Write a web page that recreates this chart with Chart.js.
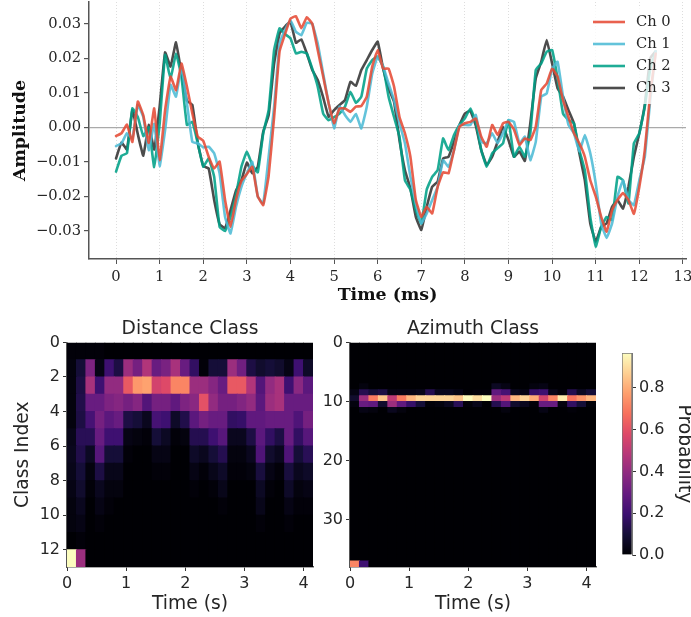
<!DOCTYPE html>
<html>
<head>
<meta charset="utf-8">
<script src="https://cdn.jsdelivr.net/npm/chart.js@4"></script>
<style>
  html, body { margin: 0; padding: 0; background: #fff; width: 691px; height: 617px; overflow: hidden; }
  canvas { position: absolute; }
</style>
</head>
<body>
<canvas id="waveChart" width="691" height="312" style="left:0;top:0"></canvas>
<canvas id="distChart" width="330" height="302" style="left:0;top:315px"></canvas>
<canvas id="aziChart" width="290" height="302" style="left:310px;top:315px"></canvas>
<canvas id="barChart" width="95" height="240" style="left:600px;top:335px"></canvas>
<script>
// time axis of the waveform, ms
const times = [
  0,0.125,0.25,0.375,0.5,0.625,0.75,0.875,
  1,1.125,1.25,1.375,1.5,1.625,1.75,1.875,
  2,2.125,2.25,2.375,2.5,2.625,2.75,2.875,
  3,3.125,3.25,3.375,3.5,3.625,3.75,3.875,
  4,4.125,4.25,4.375,4.5,4.625,4.75,4.875,
  5,5.125,5.25,5.375,5.5,5.625,5.75,5.875,
  6,6.125,6.25,6.375,6.5,6.625,6.75,6.875,
  7,7.125,7.25,7.375,7.5,7.625,7.75,7.875,
  8,8.125,8.25,8.375,8.5,8.625,8.75,8.875,
  9,9.125,9.25,9.375,9.5,9.625,9.75,9.875,
  10,10.125,10.25,10.375,10.5,10.625,10.75,10.875,
  11,11.125,11.25,11.375,11.5,11.625,11.75,11.875,
  12,12.125,12.25,12.375
]

// amplitudes in thousandths
const ch0 = [
  -2.5,-1.7,0.8,-4.2,7.5,3.5,-4.5,5.5,
  -9.5,5,14.7,10.8,18.5,11.8,4,-2.7,
  -3.9,-8.5,-11.9,-9.9,-21,-28.8,-21,-15.5,
  -13.5,-11.4,-20,-22.5,-14,3,22,27,
  31.5,32.2,28.7,31.9,30,22.4,14.7,7,
  1.2,5.5,5.5,4.5,6,6.2,8.9,17.6,
  22.4,17,17,11.8,3,-1.7,-8.5,-21,
  -25.9,-23,-24.9,-17.2,-13,-13.3,-6.6,0.2,
  1.2,1.6,2.6,-2.7,-5.6,0.7,-2.2,1.2,
  1.6,-0.6,-5.1,-3.2,-3.7,0.2,10.8,12.7,
  17,14.7,7.9,3,-1.7,-4.6,-8.5,-15.3,
  -20,-25.9,-30.2,-24,-21,-19,-21,-25,
  -17.2,-6.6,9.8,21.4
]
const ch1 = [
  -5.4,-4.6,-1.7,-3.2,6.5,3,-6.6,1,
  -11.2,-0.8,12.3,8.9,17.6,7,-4.2,-4.6,
  -5.8,-5.6,-7.5,-13.3,-25.9,-30.7,-23,-17.2,
  -13.3,-10,-20,-22,-8.5,6,24.3,28.2,
  31,27.7,26.7,30.3,30,24.3,15.6,7,
  -0.3,6,3.6,1.6,3.9,-0.3,6,15.6,
  20.5,17.6,12.7,7.9,1.2,-4.6,-14.3,-22,
  -27.8,-24.9,-21,-17.2,-9.5,-11.4,-6.6,0.7,
  0.7,0.7,3.6,-4.2,-4.6,-1.7,-4.6,-1.7,
  2.1,1.6,-4.6,-2.7,-9.5,-4.2,8.9,9.8,
  17,19,8.9,0.7,-1.7,-7,-2.2,-7.5,
  -16.2,-27.8,-32,-27.8,-20,-15.3,-21,-22.5,
  -15.3,-8.5,7.9,22
]
const ch2 = [
  -12.8,-8.2,-7.5,5.5,3,-2.5,0,-11.5,
  1,21,14,21.4,14.7,0.7,1.6,-4.6,
  -11.4,-9,-14.3,-28.8,-30,-25.9,-19.6,-11.4,
  -7,-10.9,-13,-1.7,5,22.4,28.7,27,
  25.8,21.4,21.9,21.4,17,11.8,4,2.1,
  3,4,6,10.3,7.1,8.9,17,19.5,
  20.5,17.6,8.9,3,-2.7,-15.3,-18,-24,
  -27.8,-18,-14.3,-12.4,-3.2,-6.6,-2.2,0.7,
  2.6,5.5,1.6,-6.6,-11.4,-7.5,-6,-4.6,
  2.1,-8.5,-5.6,-8.5,-1.7,16.6,18.5,21.9,
  22.4,14.2,4,2.1,1.2,-6.6,-12.4,-25.9,
  -34.5,-28.8,-25.9,-26.8,-14.3,-15.3,-22,-4.6,
  -1.7,6,17,22
]
const ch3 = [
  -9,-4.4,-6.4,5,-2,-8.2,0.7,-6.4,
  6,21.7,17.6,24.6,15.6,7.7,6.5,-4.6,
  -11.2,-11.9,-21,-28,-29.2,-24,-18.3,-15.3,
  -10.2,-13.3,-11.4,-1.3,3.6,18.5,27.2,29.2,
  30.6,24.5,25.5,21.4,16.6,13.7,8.7,3.1,
  5,6.5,7.9,13.2,12,16.6,19.5,22.4,
  24.8,17,11.3,7.4,-3.7,-12.4,-17.7,-25.9,
  -29.7,-23,-17.2,-15.7,-9,-8.5,-4.2,0.7,
  4,4.8,0.5,-6.6,-10.9,-8.5,-4.2,0.2,
  -3.7,-8.5,-7,-9.7,1.2,14.2,19,25.3,
  18.5,11.3,8.9,5,1.2,-7.5,-15.3,-27.8,
  -33.1,-28.8,-27.8,-23,-21,-23.5,-17.2,-8.5,
  -1.7,6.5,20,22
]
const channelNames = ['Ch 0', 'Ch 1', 'Ch 2', 'Ch 3']
const channelColors = ['rgba(230,75,53,0.88)', 'rgba(77,187,213,0.88)', 'rgba(0,160,135,0.88)', 'rgba(51,51,51,0.88)']

// heatmap column centres, s
const frameTimes = [0.08,0.24,0.40,0.56,0.72,0.88,1.04,1.20,1.36,1.52,1.68,1.84,2.00,2.16,2.32,2.48,2.64,2.80,2.96,3.12,3.28,3.44,3.60,3.76,3.92,4.08]

const distanceProbs = [
  [0.01,0.01,0.01,0.01,0,0,0,0,0,0,0,0,0,0,0,0,0,0,0,0,0,0,0,0,0,0],
  [0.02,0.1,0.35,0.03,0.2,0.12,0.42,0.33,0.47,0.3,0.34,0.45,0.3,0.17,0.01,0.1,0.1,0.42,0.32,0.12,0.08,0.1,0.08,0.03,0.2,0.07],
  [0.02,0.12,0.45,0.2,0.4,0.4,0.62,0.76,0.78,0.55,0.58,0.72,0.72,0.42,0.42,0.37,0.3,0.62,0.62,0.47,0.25,0.4,0.45,0.2,0.38,0.27],
  [0.02,0.13,0.3,0.3,0.35,0.37,0.33,0.37,0.25,0.33,0.33,0.28,0.35,0.38,0.6,0.4,0.33,0.33,0.36,0.4,0.27,0.42,0.45,0.3,0.3,0.3],
  [0.02,0.12,0.22,0.33,0.27,0.3,0.12,0.1,0.05,0.22,0.2,0.07,0.13,0.27,0.33,0.3,0.3,0.17,0.18,0.28,0.28,0.3,0.3,0.3,0.24,0.33],
  [0.04,0.15,0.15,0.3,0.2,0.2,0.03,0.02,0.01,0.1,0.06,0.01,0.02,0.14,0.14,0.2,0.26,0.05,0.05,0.12,0.27,0.17,0.12,0.3,0.17,0.26],
  [0.05,0.13,0.06,0.26,0.1,0.1,0.01,0,0,0.03,0.03,0,0,0.07,0.05,0.1,0.14,0.02,0.02,0.05,0.24,0.08,0.05,0.24,0.1,0.15],
  [0.04,0.1,0.02,0.12,0.04,0.04,0,0,0,0.01,0.01,0,0,0.03,0.01,0.04,0.07,0.01,0.01,0.02,0.11,0.03,0.01,0.11,0.05,0.07],
  [0.03,0.08,0.01,0.05,0.02,0.02,0,0,0,0,0,0,0,0.01,0,0.01,0.04,0,0,0,0.06,0.01,0,0.07,0.02,0.03],
  [0.02,0.05,0,0.03,0.01,0,0,0,0,0,0,0,0,0,0,0,0.01,0,0,0,0.04,0,0,0.03,0.01,0.01],
  [0.02,0.03,0,0.01,0,0,0,0,0,0,0,0,0,0,0,0,0,0,0,0,0.01,0,0,0.01,0,0],
  [0,0.01,0,0,0,0,0,0,0,0,0,0,0,0,0,0,0,0,0,0,0,0,0,0,0,0],
  [0.97,0.42,0,0,0,0,0,0,0,0,0,0,0,0,0,0,0,0,0,0,0,0,0,0,0,0]
]

// azimuth classes, every row not listed is empty
const azimuthClassCount = 38
const azimuthProbs = {
  7: [0,0.02,0,0,0,0,0,0,0,0,0,0,0,0,0,0.06,0.03,0,0,0.02,0.03,0,0,0,0,0],
  8: [0.03,0.14,0.1,0.12,0.03,0.03,0.03,0.04,0.14,0.05,0.05,0.03,0,0.01,0.01,0.28,0.22,0.05,0.03,0.18,0.2,0.04,0.01,0.14,0.06,0.1],
  9: [0.08,0.42,0.7,0.85,0.5,0.7,0.82,0.88,0.88,0.88,0.88,0.85,0.96,0.9,0.97,0.42,0.5,0.82,0.88,0.8,0.55,0.72,0.93,0.68,0.75,0.82],
  10: [0.02,0.3,0.28,0.08,0.42,0.28,0.18,0.1,0.01,0.02,0.05,0.15,0.01,0.04,0,0.14,0.25,0.08,0.05,0.01,0.3,0.3,0.02,0.17,0.1,0.01],
  11: [0,0.03,0.02,0,0.05,0.02,0,0,0,0,0,0,0,0,0,0,0.02,0,0,0,0.03,0,0,0.01,0,0],
  37: [0.72,0.2,0,0,0,0,0,0,0,0,0,0,0,0,0,0,0,0,0,0,0,0,0,0,0,0]
}

const probMax = 0.967
const magmaStops = ['#000004','#140e36','#3b0f70','#641a80','#8c2981','#b73779','#de4968','#f7705c','#fe9f6d','#fecf92','#fcfdbf']

const serif = 'DejaVu Serif'
const sans = 'DejaVu Sans'
const textColor = '#262626'
const spineColor = '#555555'

function hexToRgb(h) {
  return [1, 3, 5].map(i => parseInt(h.slice(i, i + 2), 16))
}

function magma(v) {
  const p = Math.min(v / probMax, 1) * (magmaStops.length - 1)
  const i = Math.min(Math.floor(p), magmaStops.length - 2)
  const a = hexToRgb(magmaStops[i])
  const b = hexToRgb(magmaStops[i + 1])
  const c = a.map((n, k) => Math.round(n + (b[k] - n) * (p - i)))
  return 'rgb(' + c.join(',') + ')'
}

// pin an axis box size and drop the room chart.js keeps for edge labels
function fixAxis(key, size) {
  return s => {
    s[key] = size
    s.paddingTop = s.paddingBottom = s.paddingLeft = s.paddingRight = 0
  }
}

// legend sits above the lines on a see-through white box, like the original
const floatingLegend = {
  id: 'floatingLegend',
  afterDatasetsDraw(chart) {
    const c = chart.ctx
    c.save()
    c.fillStyle = 'rgba(255,255,255,0.8)'
    c.fillRect(587, 8, 92, 96)
    c.font = '14.7px "' + serif + '"'
    c.textBaseline = 'middle'
    chart.data.datasets.forEach((ds, i) => {
      const y = 22 + i * 22
      c.strokeStyle = ds.borderColor
      c.lineWidth = 2.6
      c.beginPath()
      c.moveTo(593, y)
      c.lineTo(625, y)
      c.stroke()
      c.fillStyle = textColor
      c.fillText(ds.label, 636, y)
    })
    c.restore()
  }
}

new Chart(document.getElementById('waveChart'), {
  type: 'line',
  data: {
    labels: times,
    datasets: [ch0, ch1, ch2, ch3].map((vals, i) => ({
      label: channelNames[i],
      data: vals.map((v, k) => ({ x: times[k], y: v / 1000 })),
      borderColor: channelColors[i],
      borderWidth: 2.6,
      pointRadius: 0,
      tension: 0.1,
      borderCapStyle: 'round',
      borderJoinStyle: 'round'
    }))
  },
  plugins: [floatingLegend],
  options: {
    responsive: false,
    animation: false,
    devicePixelRatio: 1,
    layout: { autoPadding: false, padding: { top: 2, right: 5, left: 0, bottom: 0 } },
    plugins: { legend: { display: false }, tooltip: { enabled: false } },
    scales: {
      x: {
        type: 'linear',
        min: -0.62,
        max: 13.07,
        afterFit: fixAxis('height', 53),
        border: { display: true, color: spineColor, width: 1.5, dash: [1, 2] },
        grid: { color: '#dddddd', lineWidth: 1, tickColor: spineColor, tickLength: 5, tickBorderDash: [] },
        ticks: { stepSize: 1, includeBounds: false, maxRotation: 0, autoSkip: false, padding: 4, color: textColor, font: { family: serif, size: 14.7 }, callback: v => String(v) },
        title: { display: true, text: 'Time (ms)', color: '#111', font: { family: serif, size: 17.4, weight: 'bold' }, padding: { top: 0, bottom: 6.5 } }
      },
      y: {
        min: -0.0381,
        max: 0.0363,
        afterFit: fixAxis('width', 89),
        border: { display: true, color: spineColor, width: 1.5 },
        grid: {
          color: ctx => Math.abs(ctx.tick.value) < 1e-9 ? '#aaaaaa' : 'rgba(0,0,0,0)',
          lineWidth: 1.2,
          tickColor: spineColor,
          tickLength: 5
        },
        ticks: {
          stepSize: 0.01,
          includeBounds: false,
          padding: 3,
          color: textColor,
          font: { family: serif, size: 14.7 },
          callback: v => (Math.abs(v) < 1e-9 ? '0.00' : (v < 0 ? '\u2212' : '') + Math.abs(v).toFixed(2))
        },
        title: { display: true, text: 'Amplitude', color: '#111', font: { family: serif, size: 17.4, weight: 'bold' }, padding: { top: 10, bottom: 0 } }
      }
    }
  }
})

function heatCells(rowValues) {
  const cells = []
  rowValues.forEach((vals, r) => {
    frameTimes.forEach((t, k) => {
      cells.push({ x: t, y: [r, r + 1], v: vals ? vals[k] : 0 })
    })
  })
  return cells
}

function heatmap(id, title, rowValues, rowCount, step, yTitle, axisWidth, rightPad) {
  new Chart(document.getElementById(id), {
    type: 'bar',
    data: {
      datasets: [{
        data: heatCells(rowValues),
        backgroundColor: ctx => magma(ctx.raw.v),
        borderWidth: 0,
        inflateAmount: 0.5,
        barPercentage: 1,
        categoryPercentage: 1
      }]
    },
    options: {
      responsive: false,
      animation: false,
      devicePixelRatio: 1,
      layout: { autoPadding: false, padding: { top: 0, right: rightPad, left: 0, bottom: 0 } },
      plugins: {
        legend: { display: false },
        tooltip: { enabled: false },
        title: { display: true, fullSize: false, text: title, color: textColor, font: { family: sans, size: 18.7, weight: 'normal' }, padding: { top: 3, bottom: 2 } }
      },
      scales: {
        x: {
          type: 'linear',
          offset: false,
          min: 0,
          max: 4.16,
          afterFit: fixAxis('height', 50),
          border: { display: true, color: spineColor, width: 1.5 },
          grid: { offset: false, drawOnChartArea: false, tickColor: '#333', tickLength: 4 },
          ticks: { stepSize: 1, includeBounds: false, maxRotation: 0, padding: 3, color: textColor, font: { family: sans, size: 16 } },
          title: { display: true, text: 'Time (s)', color: textColor, font: { family: sans, size: 18.7 }, padding: { top: 0, bottom: 2 } }
        },
        y: {
          type: 'linear',
          reverse: true,
          min: 0,
          max: rowCount,
          afterFit: fixAxis('width', axisWidth),
          border: { display: true, color: spineColor, width: 1.5 },
          grid: { drawOnChartArea: false, tickColor: '#333', tickLength: 4 },
          ticks: { stepSize: step, includeBounds: false, padding: 3, color: textColor, font: { family: sans, size: 16 } },
          title: { display: !!yTitle, text: yTitle, color: textColor, font: { family: sans, size: 18.7 }, padding: { top: 12, bottom: 0 } }
        }
      }
    }
  })
}

const azimuthRows = []
for (let r = 0; r < azimuthClassCount; r++) azimuthRows.push(azimuthProbs[r])

heatmap('distChart', 'Distance Class', distanceProbs, distanceProbs.length, 2, 'Class Index', 67, 17)
heatmap('aziChart', 'Azimuth Class', azimuthRows, azimuthClassCount, 10, '', 40, 4)

new Chart(document.getElementById('barChart'), {
  type: 'bar',
  data: {
    labels: [''],
    datasets: [{
      data: [[0, probMax]],
      backgroundColor(ctx) {
        const area = ctx.chart.chartArea
        if (!area) return '#000'
        const g = ctx.chart.ctx.createLinearGradient(0, area.bottom, 0, area.top)
        magmaStops.forEach((c, i) => g.addColorStop(i / (magmaStops.length - 1), c))
        return g
      },
      barPercentage: 1,
      categoryPercentage: 1,
      borderColor: '#777',
      borderWidth: 1
    }]
  },
  options: {
    responsive: false,
    animation: false,
    devicePixelRatio: 1,
    layout: { autoPadding: false, padding: { top: 18, right: 0, left: 22, bottom: 20 } },
    plugins: { legend: { display: false }, tooltip: { enabled: false } },
    scales: {
      x: { display: false },
      y: {
        position: 'right',
        min: 0,
        max: probMax,
        afterFit: fixAxis('width', 63),
        border: { display: true, color: '#777', width: 1 },
        grid: { drawOnChartArea: false, tickColor: '#333', tickLength: 4 },
        ticks: { stepSize: 0.2, includeBounds: false, padding: 3, color: textColor, font: { family: sans, size: 16 }, callback: v => v.toFixed(1) },
        title: { display: true, text: 'Probability', color: textColor, font: { family: sans, size: 18.7 }, padding: { top: 0, bottom: 3 } }
      }
    }
  }
})
</script>
</body>
</html>
